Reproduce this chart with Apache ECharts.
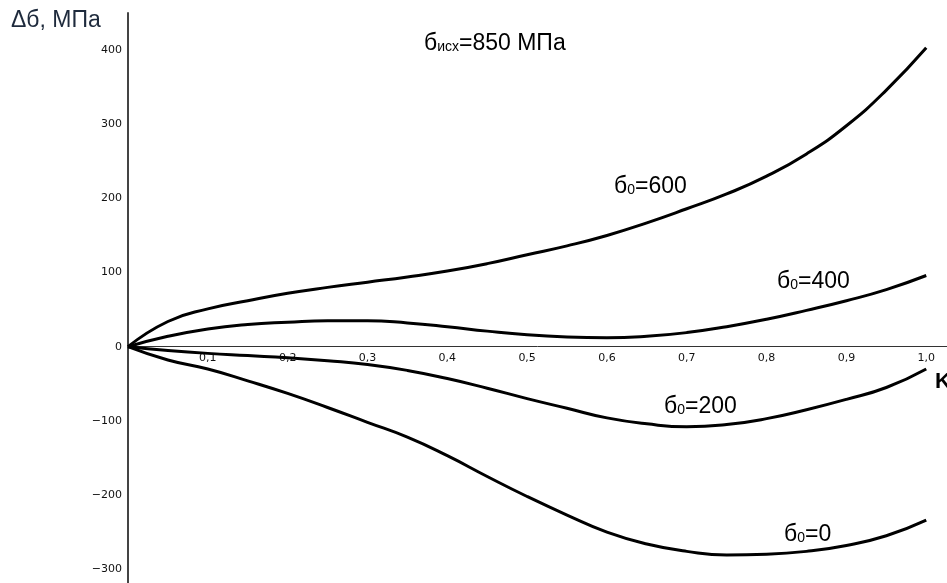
<!DOCTYPE html>
<html>
<head>
    <meta charset="UTF-8"/>
    <title>Δб от K</title>
    <style>
        html, body { margin: 0; padding: 0; background: #fff; }
        #chart { width: 947px; height: 583px; }
    </style>
</head>
<body>
<div id="chart"></div>
<script type="text/javascript" src="https://cdn.jsdelivr.net/npm/echarts/dist/echarts.min.js"></script>
<script type="text/javascript">

    // K values along x
    var kList = [0, 0.05, 0.1, 0.15, 0.2, 0.25, 0.3, 0.35, 0.4, 0.45, 0.5,
                 0.55, 0.6, 0.65, 0.7, 0.75, 0.8, 0.85, 0.9, 0.95, 1.0];
    // Δб, МПа for each б0
    var s600List = [0, 34, 51, 62, 72, 80, 87, 94, 102, 112, 124,
                    136, 150, 167, 186, 206, 230, 260, 298, 346, 403];
    var s400List = [0, 14, 24, 30, 33, 35, 35, 32, 27, 21, 16,
                    13, 12, 14, 19, 27, 37, 49, 62, 77, 96];
    var s200List = [0, -5, -9, -12, -15, -19, -24, -32, -43, -56, -70,
                    -83, -96, -104, -108, -105, -97, -85, -71, -55, -30];
    var s0List = [0, -18, -30, -46, -63, -82, -102, -122, -147, -175, -202,
                  -227, -250, -266, -276, -281, -280, -276, -268, -255, -234];

    var xTicks = [0.1, 0.2, 0.3, 0.4, 0.5, 0.6, 0.7, 0.8, 0.9, 1.0];
    var yTicks = [-300, -200, -100, 0, 100, 200, 300, 400];

    var yMin = -320, yMax = 450;
    var gridTop = 13, gridHeight = 571;

    var textColor = '#1e2a3c';

    var pairs = function(ys) {
        var out = [];
        for (var i = 0; i < kList.length; i++) {
            out.push([kList[i], ys[i]]);
        }
        return out;
    };

    var lineSeries = function(name, ys) {
        return {
            name: name,
            type: 'line',
            smooth: 0.5,
            symbol: 'none',
            lineStyle: { color: '#000', width: 3 },
            data: pairs(ys)
        };
    };

    // rich text for б with a small subscript
    var richStyle = {
        b: { fontFamily: 'Liberation Sans', fontSize: 23, color: textColor },
        s: { fontFamily: 'Liberation Sans', fontSize: 14, color: textColor, verticalAlign: 'bottom', padding: [0, 0, 1, 0] }
    };

    var curveLabel = function(left, top, sub, rest) {
        return {
            type: 'text',
            left: left,
            top: top,
            style: {
                text: '{b|б}{s|' + sub + '}{b|' + rest + '}',
                rich: richStyle
            }
        };
    };

    // x axis sits on y = 0, labels just under it
    var zeroFromBottom = gridHeight * (0 - yMin) / (yMax - yMin);

    const chart = echarts.init(document.getElementById('chart'));

    chart.setOption({
        animation: false,
        grid: { left: 128, right: 0, top: gridTop, height: gridHeight, outerBoundsMode: 'none' },
        xAxis: {
            type: 'value',
            position: 'bottom',
            offset: -zeroFromBottom,
            min: 0,
            max: 1.026,
            interval: 0.1,
            splitLine: { show: false },
            axisTick: { show: false },
            axisLine: { onZero: false, lineStyle: { color: '#333', width: 1 } },
            axisLabel: {
                color: '#111',
                fontFamily: 'DejaVu Sans',
                fontSize: 11,
                margin: 6,
                showMaxLabel: false,
                formatter: function(v) {
                    for (var i = 0; i < xTicks.length; i++) {
                        if (Math.abs(v - xTicks[i]) < 1e-6) {
                            return xTicks[i].toFixed(1).replace('.', ',');
                        }
                    }
                    return '';
                }
            }
        },
        yAxis: {
            type: 'value',
            min: yMin,
            max: yMax,
            interval: 10,
            splitLine: { show: false },
            axisTick: { show: false },
            axisLine: { show: true, lineStyle: { color: '#444', width: 2 } },
            axisLabel: {
                color: '#111',
                fontFamily: 'DejaVu Sans',
                fontSize: 11,
                margin: 6,
                formatter: function(v) {
                    if (yTicks.indexOf(Math.round(v)) < 0 || Math.abs(v - Math.round(v)) > 1e-6) {
                        return '';
                    }
                    return v < 0 ? '\u2212' + Math.abs(v) : String(v);
                }
            }
        },
        graphic: [
            {
                type: 'text',
                left: 11,
                top: 9,
                style: { text: 'Δб, МПа', fontFamily: 'Liberation Sans', fontSize: 23, fill: textColor }
            },
            {
                type: 'text',
                left: 424,
                top: 32,
                style: {
                    text: '{b|б}{s|исх}{b|=850 МПа}',
                    rich: richStyle
                }
            },
            curveLabel(614, 175, '0', '=600'),
            curveLabel(777, 270, '0', '=400'),
            curveLabel(664, 395, '0', '=200'),
            curveLabel(784, 523, '0', '=0'),
            {
                type: 'text',
                left: 935,
                top: 371,
                style: { text: 'K', fontFamily: 'Liberation Sans', fontWeight: 'bold', fontSize: 22, fill: '#000' }
            }
        ],
        series: [
            lineSeries('б0=600', s600List),
            lineSeries('б0=400', s400List),
            lineSeries('б0=200', s200List),
            lineSeries('б0=0', s0List)
        ]
    });
</script>
</body>
</html>
